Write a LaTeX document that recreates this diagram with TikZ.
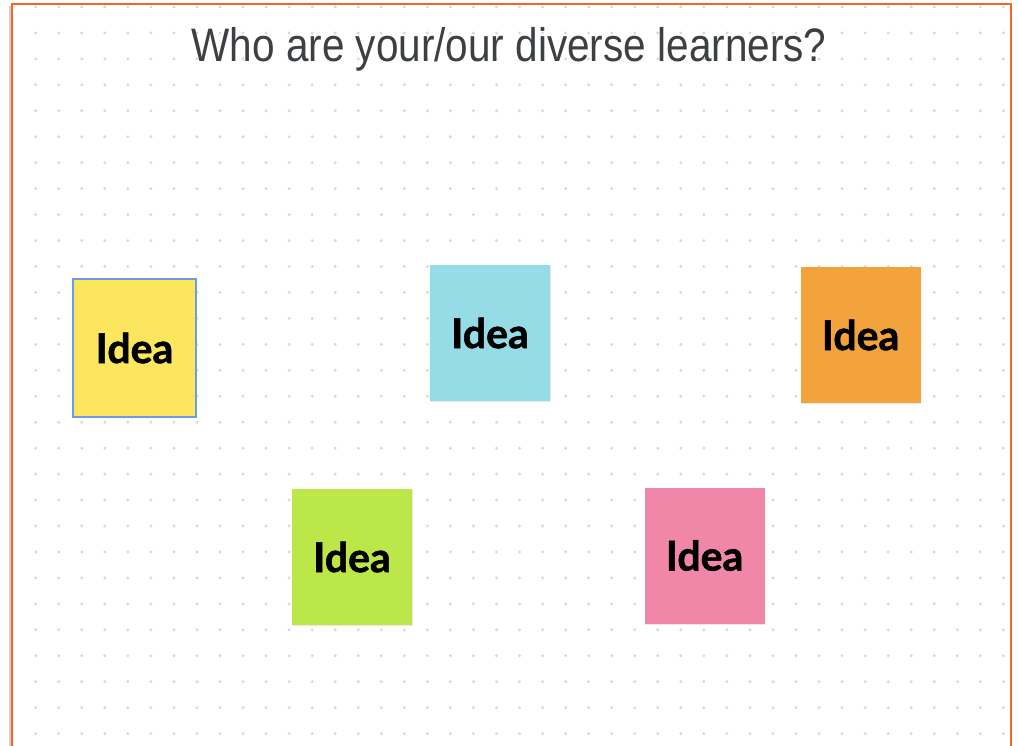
\documentclass[tikz,border=0pt]{standalone}
\usepackage{fontspec}
\setmainfont{Liberation Sans}
\newfontfamily\ideafont[BoldFeatures={FakeBold=1.4}]{Lato}
\usepackage{xcolor}
\usepackage{tikz}
\usetikzlibrary{positioning, shadows}

\definecolor{frameorange}{HTML}{F4672A}
\definecolor{dotgray}{HTML}{D8D8D8}
\definecolor{titlegray}{HTML}{3D4043}
\definecolor{noteyellow}{HTML}{FCE65E}
\definecolor{noteblue}{HTML}{95DCE7}
\definecolor{noteorange}{HTML}{F2A33B}
\definecolor{notegreen}{HTML}{BBE848}
\definecolor{notepink}{HTML}{F087A9}
\definecolor{selectblue}{HTML}{6E9AEA}

\tikzset{
  stickynote/.style={
    rectangle, inner sep=0pt, minimum width=120pt, minimum height=136pt,
    font=\ideafont\bfseries\fontsize{41}{41}\selectfont, text=black,
    drop shadow={opacity=0.18, shadow xshift=0.8pt, shadow yshift=-1.2pt}
  },
  boardtitle/.style={
    font=\fontsize{47}{47}\selectfont, text=titlegray, inner sep=0pt,
    xscale=0.862
  },
}

\begin{document}
\begin{tikzpicture}[x=1pt, y=-1pt]
  \useasboundingbox (0,0) rectangle (1019,746);
  \fill[white] (0,0) rectangle (1019,746);

  % --- board frame and dot grid ---
  \fill[black!18] (9,6) rectangle (12,746);
  \begin{scope}
    \clip (13,5) rectangle (1010,746);
    \foreach \i in {0,...,42}
      \foreach \j in {0,...,28}
        \fill[dotgray] (35.7+23.04*\i, 7+25.95*\j) circle (1.6);
  \end{scope}
  \draw[frameorange, line width=2.6pt] (12,750) -- (12,4) -- (1011,4) -- (1011,750);

  % --- title ---
  \node[boardtitle] (title) at (509,49) {Who are your/our diverse learners?};

  % --- sticky notes ---
  \node[stickynote, fill=noteyellow, draw=selectblue, line width=1.5pt,
    minimum width=123pt, minimum height=138pt] (yellownote) at (134.5,348) {Idea};
  \node[stickynote, fill=noteblue] (bluenote) at (490,333) {Idea};
  \node[stickynote, fill=noteorange] (orangenote) at (860.5,335) {Idea};
  \node[stickynote, fill=notegreen] (greennote) at (352,557) {Idea};
  \node[stickynote, fill=notepink] (pinknote) at (704.5,555.5) {Idea};
\end{tikzpicture}
\end{document}
